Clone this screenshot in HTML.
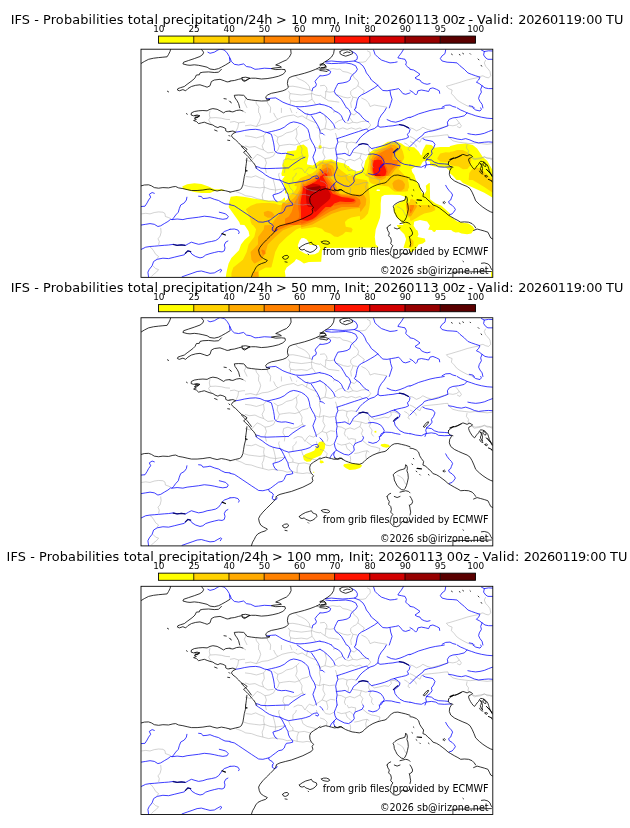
<!DOCTYPE html>
<html lang="fr"><head><meta charset="utf-8"><title>IFS - Probabilities total precipitation/24h</title>
<style>
html,body{margin:0;padding:0;background:#fff}
svg{display:block}
text{font-family:"DejaVu Sans","Liberation Sans",sans-serif;fill:#000}
.t{font-size:12.89px}
.k{font-size:8.9px;text-anchor:middle}
.a{font-size:9.6px;text-anchor:end}
.c{fill:none;stroke:#000;stroke-width:.8;stroke-linejoin:round;stroke-linecap:round}
.b{fill:none;stroke:#222;stroke-width:.4;stroke-linejoin:round}
.d{fill:none;stroke:#a0a0a0;stroke-width:.48;stroke-linejoin:round}
.w{fill:none;stroke:#000;stroke-width:1.2;stroke-linecap:round}
.v{fill:none;stroke:#000;stroke-width:.95;stroke-linecap:round}
.l{fill:none;stroke:#0a0a70;stroke-width:1.2;stroke-linecap:round}
.r{fill:none;stroke:#0000ff;stroke-width:.76;stroke-linejoin:round;stroke-linecap:round}
</style></head>
<body>
<svg width="630" height="828" viewBox="0 0 630 828">
<rect width="630" height="828" fill="#fff"/>
<defs>
<clipPath id="mc"><rect x="141.0" y="49.2" width="351.80" height="228.15"/></clipPath>
<g id="cb">
<rect x="158.55" y="36.05" width="35.51" height="7.15" fill="#ffff00"/>
<rect x="193.76" y="36.05" width="35.51" height="7.15" fill="#ffd200"/>
<rect x="228.96" y="36.05" width="35.51" height="7.15" fill="#ffaa00"/>
<rect x="264.17" y="36.05" width="35.51" height="7.15" fill="#ff8200"/>
<rect x="299.37" y="36.05" width="35.51" height="7.15" fill="#ff6400"/>
<rect x="334.58" y="36.05" width="35.51" height="7.15" fill="#ff1400"/>
<rect x="369.78" y="36.05" width="35.51" height="7.15" fill="#d20000"/>
<rect x="404.99" y="36.05" width="35.51" height="7.15" fill="#960000"/>
<rect x="440.19" y="36.05" width="35.51" height="7.15" fill="#5a0000"/>
<path d="M193.76 36.05V43.2" stroke="#000" stroke-width=".8" fill="none"/>
<path d="M228.96 36.05V43.2" stroke="#000" stroke-width=".8" fill="none"/>
<path d="M264.17 36.05V43.2" stroke="#000" stroke-width=".8" fill="none"/>
<path d="M299.37 36.05V43.2" stroke="#000" stroke-width=".8" fill="none"/>
<path d="M334.58 36.05V43.2" stroke="#000" stroke-width=".8" fill="none"/>
<path d="M369.78 36.05V43.2" stroke="#000" stroke-width=".8" fill="none"/>
<path d="M404.99 36.05V43.2" stroke="#000" stroke-width=".8" fill="none"/>
<path d="M440.19 36.05V43.2" stroke="#000" stroke-width=".8" fill="none"/>
<rect x="158.55" y="36.05" width="316.85" height="7.15" fill="none" stroke="#000" stroke-width="0.88"/>
</g>
<g id="bm">
<path class="d" d="M287.9,86.5 292.9,86.2 298.6,87.2 304.3,88.6 310.0,90.0 312.1,90.8M295.7,76.2 297.9,78.6 301.4,80.0 304.3,81.5 307.1,83.6 309.3,86.5 310.0,90.0M288.3,90.8 290.0,93.6 289.3,97.9 290.7,100.8 290.0,104.3M290.0,93.6 295.7,94.3 301.4,95.0 307.1,94.3 312.1,93.6 315.7,95.0 320.0,95.8M312.1,90.8 311.4,95.0 312.1,99.3 314.3,102.2 315.7,104.8M290.7,100.8 295.7,101.5 301.4,101.0 307.1,101.9 312.1,99.3M245.0,96.5 245.7,99.3 244.3,102.2 245.7,105.0 247.1,107.9M255.7,100.5 256.4,103.6 258.6,106.5 259.3,107.9M267.1,100.8 267.9,103.6 270.0,106.5 270.7,107.9M328.6,69.3 332.9,68.6 337.1,69.3 340.0,69.0 342.9,71.5 347.1,72.2 350.7,73.6 352.9,75.0M352.9,75.0 354.3,77.9 357.1,80.0 358.6,82.9 357.9,85.8 355.7,87.9 352.9,89.3 350.7,91.5 350.7,94.3 352.9,97.2 352.1,100.0 350.7,102.9 351.4,107.9M320.0,85.8 324.3,85.3 326.4,87.2 327.1,90.0 325.7,91.5 330.0,92.2 334.3,91.5M335.7,94.3 340.0,95.8 343.6,97.2 347.9,97.9 350.7,97.2M325.7,91.5 325.7,95.0 325.0,98.6 328.6,100.8 334.3,101.5 339.3,102.2M357.9,85.8 361.4,88.6 364.3,90.8 362.9,93.6M352.9,97.2 357.1,97.9M361.4,97.9 365.7,100.0 368.6,102.9 370.0,106.5 374.3,105.0 378.6,105.8 382.9,106.5 387.1,107.2M367.1,50.8 370.0,52.2 370.3,55.8 367.9,58.6 365.7,61.5 362.9,62.2 358.6,62.2M320.0,95.0 322.9,97.2 325.0,98.6M446.4,86.2 450.0,85.3 455.7,83.6 461.4,81.9 467.1,80.0 472.9,78.6 477.9,77.6 480.0,76.5 482.9,75.8 485.7,77.2 488.6,77.9 490.7,75.8 490.0,71.5 487.9,68.6 485.7,66.5 484.3,62.9 485.7,60.0M446.4,86.2 448.6,88.6 452.1,90.0 451.4,93.6 454.3,96.5 456.4,99.3 459.3,101.5 462.9,103.6 467.1,105.8 471.4,107.2 473.6,107.9M210.0,110.8 209.3,114.3 210.0,117.9 208.6,120.0 210.0,122.2 211.4,124.3M210.0,117.9 215.7,117.6 221.4,118.2 225.7,119.3 230.0,119.6M242.9,111.0 246.0,112.9M296.1,112.9 297.1,112.2M244.3,147.2 245.0,147.1M230.0,122.2 234.3,121.5 238.6,122.9 242.9,122.2 245.0,122.2M238.6,122.9 237.9,127.2 235.7,132.2M270.7,107.9 270.2,112.9M281.4,107.9 281.4,112.9M258.6,107.9 258.6,112.9M290.0,107.9 292.0,112.9M368.6,122.2 370.7,125.0 368.6,127.9 366.4,129.0M369.3,146.5 374.3,150.8 378.6,150.0 384.3,148.6 388.6,149.3 391.4,146.5 390.7,143.6 394.3,143.3 398.6,145.0 400.0,147.9M369.3,146.5 368.6,150.8 370.7,154.3 369.3,157.9 372.1,161.5 371.4,165.0 373.6,167.9M404.3,142.9 407.1,144.3 409.3,146.5 407.9,149.3 410.0,150.8M335.0,127.9 338.6,129.3 342.9,127.9 347.1,129.3 351.4,127.9 355.7,129.3 360.0,127.9 362.9,130.0M345.0,122.2 348.6,123.6 352.9,122.2 357.1,122.9 361.4,121.5 366.4,121.0M335.0,133.3 335.7,133.6 337.1,138.6M335.0,149.0 335.7,149.3M335.0,154.2 336.4,153.6M337.9,142.2 342.9,141.5 347.1,142.9 351.4,142.2 356.4,142.9M347.1,142.9 346.4,147.2 348.6,150.8 347.9,155.0M352.1,152.2 357.1,152.9 361.4,153.6 365.7,155.0 368.6,154.3M361.4,153.6 360.0,157.9 362.9,161.5 361.4,165.0 362.9,167.9M337.1,157.9 341.4,158.6 345.7,160.8 350.0,159.3 354.3,160.8 360.0,157.9M345.7,160.8 344.3,165.0 345.7,167.9M334.3,110.8 333.6,112.9M342.9,119.3 338.6,120.8 335.0,123.3M350.7,113.6 354.3,115.0 357.1,112.2M349.3,117.2 352.9,122.2M410.0,127.9 412.9,128.6 416.4,130.8 420.0,129.3 422.9,127.2 427.1,129.3 431.4,130.5 435.7,129.3 440.7,127.9 445.7,126.5 449.3,125.3 452.9,125.8 456.4,125.0 459.3,122.9 457.1,120.0 455.7,118.6M459.3,122.9 461.4,125.8 460.0,127.9 457.1,126.5M410.0,136.5 412.9,137.9 416.4,140.0 420.0,142.2 421.4,138.6 424.3,137.2 431.4,136.5 438.6,135.8 444.3,135.0 447.9,134.8 448.6,137.2M448.6,137.2 452.9,140.8 458.6,142.2 464.3,142.9 470.0,143.6 475.7,142.9 481.4,143.6 487.1,144.3 492.7,143.6M467.1,144.3 466.4,147.9 468.6,150.8 467.9,153.6 470.0,155.0M471.7,157.9 475.7,158.6 480.0,157.9 484.3,157.2 488.6,157.9 492.7,158.6M410.0,141.5 412.9,142.9 415.7,145.0 416.4,147.2M141.4,213.9 145.7,213.3 150.0,213.9 154.3,212.5 158.6,211.9 162.9,212.2 165.0,213.6 165.4,216.5 168.6,217.6 170.7,218.6M243.6,185.0 248.6,186.5 254.3,187.2 260.0,187.9 264.3,187.2M235.7,191.5 241.4,193.6 245.7,195.8 251.4,196.5 257.1,198.6 262.9,200.0 268.6,201.5 272.9,200.8 277.1,201.5 282.9,202.2 287.1,203.6 292.1,202.9 297.1,204.3 302.9,205.0 307.1,204.3 311.4,205.0M264.3,187.2 263.6,191.5 262.1,195.0 262.9,200.0M264.3,187.2 270.0,189.3 275.7,190.0 280.0,189.3 285.0,188.6M260.0,177.9 264.3,179.3 263.6,183.6 264.3,187.2M272.9,178.6 274.3,183.6 275.7,190.0M287.9,194.3 292.9,193.6 298.6,195.0 304.3,194.3 310.0,195.8M288.6,183.6 290.0,187.9 292.9,190.8 292.9,193.6M301.4,181.5 302.9,186.5 307.1,189.3 312.9,190.8 317.1,191.5M296.4,172.9 295.7,175.0 292.9,177.9 292.9,182.9M306.6,172.9 307.1,173.6 312.1,177.2M279.3,172.9 278.6,175.0 280.0,180.0M298.6,195.0 297.1,199.3 297.1,204.3M245.7,176.5 251.4,177.2 255.7,175.8 260.0,177.9M316.4,172.9 317.1,175.8M275.7,190.0 275.0,194.3M320.0,180.8 324.3,182.2 327.1,185.0 326.4,188.6M322.9,172.9 325.7,176.5 330.0,177.2 334.3,175.0M337.1,175.0 341.4,176.5 345.7,175.8 350.0,174.3 353.6,177.9M345.7,175.8 347.1,180.0 350.0,182.2 352.1,184.3M350.0,187.2 350.7,190.8 350.0,193.6M354.3,185.0 358.6,184.3 362.9,182.9 367.1,182.2 369.3,183.6M367.1,182.2 365.7,186.5 366.4,190.8M367.1,175.8 371.4,177.9 375.7,178.6 380.0,180.0 379.3,182.9 377.1,184.8M347.1,167.9 348.6,170.8 351.4,170.0 355.7,170.8 355.0,175.0M362.9,172.2 367.1,175.8M397.1,206.5 400.0,207.9 402.9,210.0 404.3,212.9 405.7,215.8M160.7,227.9 161.1,232.2 160.0,236.5 157.9,238.6 159.3,241.5 158.6,245.0M150.0,247.2 151.4,247.9 153.6,250.8 155.7,254.3 158.6,256.5 157.1,258.6M152.9,265.8 155.7,268.6 158.6,269.6 156.4,272.2 153.6,274.3 151.4,276.5M472.5,156.5 472.9,158.6 474.3,159.7 476.4,159.3 478.6,159.0 480.7,158.6 482.9,157.5 484.3,156.5 485.7,157.5 487.1,158.6 489.3,158.5 491.4,159.3 492.3,159.5M245.0,125.8 250.7,125.0 256.4,126.5 262.1,124.3 267.9,123.6 273.6,121.5 277.9,119.3 282.1,117.2 287.9,115.8 293.6,115.0M259.3,112.9 260.7,117.2 259.3,121.5 256.4,126.5M273.6,112.9 275.7,117.2 277.9,119.3M293.6,115.0 297.9,117.2 302.1,115.8 306.4,118.6 310.7,120.8 316.4,122.9M245.0,135.8 250.7,136.5 256.4,137.9 263.6,135.8 266.4,132.2M263.6,135.8 264.3,141.5 262.1,145.8 263.6,150.0 267.9,152.9 273.6,152.2M273.6,134.3 277.9,137.2 282.1,135.8 286.4,132.9 292.1,131.5 296.4,128.6 299.3,125.8M277.9,137.2 277.1,141.5 279.3,145.8 283.6,145.0 289.3,144.3 295.0,145.0 299.3,143.6 302.1,141.5 307.9,140.0 309.3,138.6M296.4,128.6 297.1,134.3 295.7,138.6 299.3,143.6M245.0,145.8 249.3,147.2 255.0,146.5 259.3,148.6 263.6,150.0M257.1,154.3 260.7,155.8 265.0,158.6 269.3,157.9 273.6,155.8 275.0,152.9M279.3,145.8 277.9,150.0 275.0,152.9M283.6,160.0 287.9,158.6 292.1,160.0 297.9,158.6 302.1,155.8 303.6,157.2M299.3,143.6 302.1,148.6 301.4,152.9 303.6,157.2M265.0,158.6 266.4,162.9 265.0,167.2 266.4,172.9M283.6,160.0 282.9,164.3 285.0,167.9 284.3,172.9M316.4,127.2 320.7,130.0 325.0,128.6 330.7,130.0 335.0,128.6M315.0,147.2 319.3,148.6 323.6,147.2 329.3,148.6 335.0,147.9M317.9,165.8 322.1,162.9 326.4,164.3 330.7,162.2 335.0,162.9M323.6,147.2 322.9,152.9 325.0,157.2 322.1,162.9M305.0,172.9 307.1,169.3 309.3,167.2 313.6,168.6 317.9,165.8M320.7,130.0 319.3,135.8 320.7,141.5 319.3,148.6M245.0,160.0 250.7,161.5 257.1,154.3M293.6,170.0 297.9,167.9 302.1,168.6 305.0,172.9M326.4,164.3 327.9,170.0 327.1,172.9M306.4,118.6 307.9,112.9M325.0,128.6 326.4,121.5 325.0,115.8"/>
<path class="b" d="M316.4,69.0 320.0,70.0"/>
<path class="r" d="M207.9,52.2 210.0,53.3 214.3,52.2 217.9,50.0 220.0,49.0 224.3,50.0 227.1,52.9 229.3,56.5 230.0,61.5M230.0,57.9 231.4,61.5 234.3,64.3 238.6,65.0 243.6,63.9 246.4,66.5 250.7,67.2 255.0,69.3 258.6,69.0 264.3,68.2 271.4,68.6M266.4,99.0 271.4,98.2 275.7,97.9 279.3,100.0 282.9,102.2 287.1,103.9 291.4,105.3 295.7,106.5 300.0,106.8 304.3,106.5 310.0,105.8 315.7,104.8 320.0,103.9M320.0,75.8 317.1,78.6 315.0,81.5 316.4,84.3 315.7,86.5 312.9,87.9 312.1,90.8M325.7,61.5 331.4,61.0 337.1,61.5 342.9,61.9 348.6,61.5 354.3,61.0 359.3,62.9 362.9,65.8 365.0,69.3 366.4,72.9 369.3,76.5 371.4,80.0 375.0,82.9 377.9,85.3 380.0,87.9 382.9,90.5 387.1,90.8 391.4,90.0 395.7,89.3 398.6,88.6 400.7,90.8 402.9,93.6 405.7,94.3 410.0,92.9M390.0,90.8 390.7,95.0 392.1,99.3 390.7,103.6 389.3,107.9M325.7,62.9 331.4,63.6 338.6,63.3 345.7,62.9 351.4,63.9 355.7,65.8 357.4,69.3 355.7,72.2 352.9,74.3 350.7,77.2 350.0,80.0 347.1,81.9 342.9,82.9 337.9,83.6 336.4,86.5 335.0,89.3 334.3,91.5 335.7,94.3 338.6,96.5 341.4,99.3 343.6,102.9 345.7,106.5 346.4,107.9M352.1,51.5 355.7,53.6 357.4,56.5 357.1,59.3 354.3,61.0M320.0,75.8 322.9,75.8 327.1,75.0 330.0,73.6 330.7,71.5 328.6,70.0M373.6,50.0 375.0,54.3 377.9,57.2 381.4,60.0 385.7,61.5 390.0,62.9 394.3,62.5 397.1,61.9M403.6,49.3 401.4,52.9 398.6,56.5 397.9,57.9 401.4,58.6 405.0,59.3 406.4,62.2 405.7,65.0 407.9,67.2 410.0,68.6M377.9,85.3 374.3,87.9 370.7,90.0 365.7,92.9 361.4,95.0 358.6,97.2 357.1,100.8 356.4,105.0 355.7,107.9M320.0,104.3 324.3,105.0 328.6,106.5 331.4,107.9M445.7,49.6 445.0,53.6 442.1,55.8 440.3,58.6 442.1,61.0 447.1,62.2 452.9,62.5 457.1,62.9 460.0,65.8 464.3,69.3 467.9,72.9 471.4,74.3 475.7,75.8 480.0,77.2 478.6,80.0 476.4,82.2 479.3,83.6 482.1,85.8 485.0,87.9 488.6,88.6 492.7,88.6M482.1,85.8 480.7,89.3 481.4,92.2 479.3,95.8 478.6,98.6 480.0,101.5 482.1,104.3 482.9,107.9M481.4,50.0 484.3,51.5 483.6,55.0 485.7,57.9 487.9,59.3 492.7,59.3M484.3,51.5 488.6,50.8 492.7,51.0M410.0,69.3 413.6,70.0 417.1,72.2 420.0,74.3 417.1,76.5 415.0,77.9 417.1,79.3 420.0,80.0 421.4,82.2 424.3,83.6 427.1,84.3 430.0,83.6M410.0,90.5 412.9,92.2 415.7,95.0 417.1,93.6 417.9,90.8 421.4,90.0 425.7,90.8 428.6,91.5 430.0,88.6 432.9,87.9 436.4,89.3 439.3,90.8 439.7,93.3M442.1,107.2 445.7,105.3 450.0,105.0 452.9,106.5 455.7,107.2M469.3,105.8 472.9,106.5 474.3,107.9M235.7,132.2 240.0,131.5 244.3,130.5 250.0,129.6 255.7,129.3 260.0,130.0 264.3,131.9 267.1,132.5 271.4,131.5 275.7,130.5 280.0,129.3 284.3,127.2 287.1,124.8 290.0,122.9 293.6,121.9 297.1,122.5 301.4,123.9 305.0,126.2 307.9,129.3 309.3,133.6 310.0,137.9 312.1,142.2 314.3,145.8 315.7,150.0 314.3,153.6 312.9,157.2 314.3,161.5 315.7,165.0 316.4,167.9M267.1,132.5 271.4,134.3 272.6,138.6 273.6,142.9 274.3,147.2 274.6,150.8 277.1,152.9 281.4,153.6 285.7,153.3 290.0,154.3 293.6,155.3M297.1,107.9 301.4,110.8 305.0,113.6 310.0,114.8 315.7,113.6 320.0,112.2M311.4,115.8 314.3,120.0 317.1,124.3 319.3,128.6 320.0,131.5M289.3,167.2 292.9,164.3 297.1,161.5 301.4,158.6 305.0,157.2M256.4,166.5 260.0,167.6M386.4,107.9 384.3,111.5 381.4,115.0 379.3,118.6 378.3,122.2 377.9,125.8 380.0,127.2 384.3,126.8 388.6,126.2 392.9,125.8 397.1,125.0 400.0,124.8 404.3,125.8 408.6,127.9 410.0,129.3 409.3,132.2 407.4,134.3 408.6,137.2 405.7,138.6 401.4,139.6 397.1,140.5 394.3,141.5M337.1,138.6 341.4,137.2 345.7,135.8 350.0,134.3 354.3,132.9 358.6,131.5 362.9,130.0 366.4,129.0 368.6,130.8 365.7,132.9 362.9,135.0 360.0,137.9 357.9,140.8 356.4,142.9M377.9,125.8 374.3,128.6 370.0,130.0 368.6,130.8M337.1,138.6 337.9,142.2 336.4,145.8 335.7,149.3 336.4,153.6 337.1,157.9 336.4,162.2 337.1,167.9M337.1,154.3 341.4,153.9 345.0,153.3 347.9,155.0 350.0,155.8 352.1,152.2 353.6,149.3 356.4,147.2 359.3,144.8 362.9,143.6 367.1,144.3 369.3,146.5 371.4,148.6 375.7,147.6 380.0,146.5 384.3,145.3 388.6,143.6 391.4,142.2 394.3,141.5M368.6,154.3 372.9,153.9 377.1,154.8 380.7,156.5 382.9,159.3 384.3,162.2 382.9,165.0 380.7,167.9M320.0,112.2 323.6,114.3 327.1,117.2 330.7,120.8 333.6,124.3 335.0,127.9M331.4,107.9 334.3,110.8 338.6,112.9 341.4,115.8 342.9,119.3 345.0,122.2M347.1,107.9 349.3,110.0 350.7,113.6 349.3,117.2 347.9,120.8M355.7,107.9 354.3,110.0 357.1,112.2 360.0,114.3 362.1,117.2 364.3,119.3 366.4,121.0 368.6,121.9M320.0,132.9 322.9,133.6 324.3,135.0M387.1,119.6 391.4,121.5 395.7,122.2 400.0,121.0 404.3,119.3 407.9,117.6 410.0,117.2M394.3,141.5 397.9,143.6 400.0,145.8 399.3,148.6 396.4,150.8 394.3,152.9 395.0,156.5 397.1,159.3 400.0,162.2 404.3,164.3 408.6,165.0 410.0,165.3M380.0,167.9 381.4,165.0 385.7,163.6 391.4,163.9 395.7,165.0 400.0,165.8M410.0,117.6 414.3,115.8 418.6,113.9 424.3,112.2 430.0,110.5 435.7,109.3 440.7,108.6 444.3,107.9M457.1,107.9 460.7,110.0 464.3,111.5 467.1,112.9 471.4,114.3 475.7,115.8 481.4,117.2 487.1,118.2 492.7,118.6M410.0,146.5 412.9,143.6 416.4,140.0 420.0,137.2 422.9,135.0 424.3,132.9 428.6,131.5 432.9,130.8 438.6,129.3 444.3,127.2 447.9,125.8 447.4,122.2 449.3,119.3 452.9,117.9 458.6,117.2 464.3,115.8 467.1,112.9M467.9,133.6 471.4,134.3 475.7,134.8 480.0,134.3 484.3,133.3 488.6,131.5 492.7,130.0M448.6,137.2 452.9,137.9 457.1,139.0 461.4,139.6 465.7,138.6 470.0,140.0 474.3,141.9 478.6,142.9 484.3,142.2 488.6,141.9 492.7,142.2M422.9,138.6 425.7,140.0 430.0,140.8 432.9,141.5 435.0,144.3 433.6,147.9 431.4,150.8 432.1,153.6 430.0,156.5 427.1,158.6 425.7,161.5 426.4,164.3 425.0,167.9M410.0,165.0 415.7,166.5 421.4,167.2 425.7,165.0 431.4,164.3 435.7,165.0 438.6,166.8 444.3,167.2 451.4,166.8M426.4,159.3 431.4,160.0 434.3,162.2 438.6,163.6 444.3,163.9 448.6,164.3M472.9,107.9 475.7,110.0 480.0,111.0 481.4,109.3 480.7,107.9M141.4,206.5 145.0,206.2 147.1,202.9 148.6,200.0 150.7,197.2 149.3,194.3 152.1,192.5 154.3,193.3M198.6,196.2 201.4,196.5 202.9,198.6 207.1,198.2 210.0,197.6 214.3,199.3 218.6,200.5 221.4,202.2 225.0,203.9 230.0,204.3M186.9,197.2 186.4,200.0 184.3,202.9 180.7,205.0 179.3,208.6 178.3,212.2 175.7,215.0 173.6,217.9 172.1,219.6M141.4,225.0 145.7,224.3 150.0,223.6 154.3,224.3 157.9,226.5 160.7,225.8 164.3,223.6 167.9,221.5 170.7,219.3 172.1,219.6 177.1,219.0 182.9,219.6 187.1,218.6 192.9,217.9 198.6,217.2 204.3,216.2 210.0,216.8 214.3,217.6 218.6,218.6 222.9,219.3 227.1,218.6 228.3,216.5 225.7,213.9 222.1,212.9 219.3,212.2M255.7,167.9 258.6,170.0 262.1,172.2 265.7,175.0 269.3,177.2 272.9,178.6 277.1,179.6 280.0,180.0 282.1,182.9 283.6,185.8 285.0,188.6 286.4,191.5 287.9,194.3 288.6,197.9 290.0,200.8 292.1,202.9 292.9,205.0 290.0,205.8 286.4,206.2 285.0,208.6 284.3,210.8 282.1,212.9 278.6,213.6 275.7,215.8 272.9,217.9 270.7,219.6 268.6,220.8M260.7,168.2 267.1,168.6 275.7,168.3 284.3,168.0 288.6,167.9M280.0,180.0 284.3,182.2 288.6,183.6 292.9,182.9 297.1,182.2 301.4,181.5 305.7,180.5 310.0,179.0 312.1,177.2 314.3,176.2 317.1,175.8 318.6,177.2 317.9,179.0 315.7,178.2M285.0,188.6 282.1,191.5 278.6,193.3 275.0,194.3 272.9,195.0 273.6,197.2 275.0,200.0 277.1,201.5M230.0,204.8 234.3,205.8 238.6,208.6 242.9,211.5 247.1,214.3 251.4,217.2 255.7,220.0 258.6,221.9 262.9,222.2 265.7,221.5 268.6,220.8 269.3,222.9 272.1,224.3 273.6,226.5 272.1,227.9M337.1,167.9 335.7,171.5 334.3,175.0 335.0,178.6 336.4,181.5 334.3,183.6 332.1,185.8 330.7,187.9 330.0,189.3M334.3,183.6 333.6,186.5 335.0,189.3M336.4,181.5 340.0,183.6 344.3,185.8 348.6,186.5 352.1,184.3 354.3,181.5 353.6,177.9 355.0,175.0 358.6,173.6 362.1,172.2 363.6,169.3 362.9,167.9M368.6,173.6 372.9,174.8 377.1,173.6 379.7,170.8 379.3,167.9M320.0,169.3 322.1,171.5 322.9,172.9M445.7,185.3 447.1,187.9 449.3,190.8 451.4,192.9 452.6,195.0 451.4,197.9 450.7,200.0 448.6,201.5 449.3,203.6 452.1,205.3 454.3,207.6 455.4,209.6 453.6,212.2 452.1,213.9 449.3,214.8M141.4,249.3 145.7,247.2 150.0,246.5 154.3,246.2 158.6,245.8 164.3,245.3 168.6,245.0 173.6,244.3 177.1,245.3 181.4,244.8 185.7,245.3 188.6,243.6 191.4,242.2 195.0,243.3 198.6,244.3 202.9,243.6 207.1,242.2 211.4,241.5 215.7,240.5 218.6,238.6 220.7,235.8 222.1,233.6 224.3,231.5 227.1,230.5 230.0,229.3M148.6,277.2 147.9,272.2 149.3,269.3 152.1,265.8 153.6,261.5 157.1,259.3 162.9,258.2 168.6,258.6 174.3,257.2 180.0,255.8 184.3,254.8 185.7,252.9 187.9,250.8 190.0,251.5 192.1,254.3 195.7,256.5 200.0,257.9 202.9,257.2 205.7,255.0 210.0,253.6 214.3,252.5 218.6,251.5 222.1,251.9 224.3,250.8 225.0,247.9 224.3,245.0 225.7,242.2 227.9,241.0M182.1,276.8 187.1,275.0 192.1,273.3 197.1,271.5 201.4,271.0 205.7,272.2 210.0,273.3 214.3,272.9 217.9,270.8 220.7,269.3 221.7,270.0 220.3,272.2M272.9,227.9 272.1,230.0 274.3,231.5 276.4,230.8 277.1,229.3M230.0,229.3 234.3,229.0 237.9,230.0 239.3,232.2 238.6,233.6"/>
<path class="l" d="M399.3,124.5 403.6,125.3 408.6,127.9M358.9,144.6 362.9,143.5 367.9,144.5M393.4,152.5 395.4,150.5 397.9,148.6M173.1,244.5 177.1,245.3 181.4,244.8 185.0,245.3M185.4,253.3 187.9,250.9 190.7,251.6"/>
<path class="c" d="M141.4,63.3 144.3,61.5 148.6,59.3 153.6,58.2 158.6,57.6 162.9,57.2 167.1,56.8 168.6,54.3 170.0,51.5 170.7,49.0M201.4,49.3 203.6,52.2 202.9,54.3 200.0,56.5 194.3,58.6 188.6,60.5 183.6,62.2 182.9,63.9 187.1,65.0 190.0,65.3 194.3,64.8 198.6,65.3 202.9,66.2 207.1,67.2 210.0,69.0 214.3,69.6 218.6,68.6 221.4,67.2 225.7,64.8 230.0,62.2M221.4,69.3 218.6,72.2 214.3,72.5 208.6,71.9 202.9,72.2 200.0,72.9 199.3,74.8 196.4,75.0 195.0,77.9 192.9,80.0 190.0,82.2 187.1,84.3 184.3,86.5 180.7,87.6 177.9,88.6 177.4,90.0 179.3,90.8 182.9,89.6 185.7,90.8 187.9,88.6 191.4,86.5 195.7,85.3 200.0,84.8 204.3,86.2 207.1,87.2 210.0,85.8 211.4,81.5 214.3,80.0 220.0,79.3 224.3,80.8 227.1,81.9 230.0,81.5M167.4,91.2 168.6,91.9M224.0,98.6 226.3,99.0M229.4,101.0 230.3,101.9M290.7,49.0 291.1,53.6 289.3,57.2 286.4,60.0 282.9,61.5 278.6,63.6 275.7,65.0 279.3,65.8 281.4,67.2 272.9,68.2 271.4,68.6 275.7,69.6 281.4,69.3 285.0,69.6 285.4,71.9 282.9,74.3 278.6,76.2 272.9,77.6 267.1,78.6 261.4,79.0 255.7,78.2 251.4,78.2 248.6,78.6 245.7,80.5 242.9,80.0 241.4,78.6 238.6,79.3 234.3,80.5 230.0,81.0M242.1,77.6 245.7,77.2 250.0,78.2 247.1,80.0 244.3,81.5 242.1,80.0 242.1,77.6M320.0,67.2 315.7,69.3 310.0,71.5 304.3,73.3 298.6,74.8 292.9,76.2 289.3,77.6 287.9,80.0 287.4,83.6 288.3,87.2 286.4,89.3 282.9,90.8 277.1,92.2 271.4,93.3 267.9,94.8 265.7,96.8 266.4,99.0 270.0,99.6 267.1,100.8 261.4,101.0 255.7,100.5 251.4,100.0 247.1,99.3 245.0,96.5 243.6,95.3 238.6,95.0 234.3,95.3 235.0,97.9 237.1,100.8 238.6,103.6 239.7,107.9M230.3,101.9 231.4,102.8M334.3,49.3 333.6,53.6 331.4,57.2 327.9,60.0 324.3,62.2 321.4,64.3 320.0,65.8M320.0,64.3 323.6,63.6 325.7,65.8 324.3,67.9 320.0,68.2M320.0,69.3 325.7,69.0 328.6,70.0 327.1,71.5 322.9,70.8 320.0,70.5M320.7,65.0 325.0,64.8 326.4,67.2 321.4,67.6M340.0,51.5 342.9,50.0 348.6,49.6 352.1,51.5 352.6,53.6 349.3,55.0 345.7,56.2 342.1,55.0 340.0,53.6 340.0,51.5M343.6,53.3 347.1,51.9 350.0,52.5M451.4,54.0 452.3,54.6M459.3,54.5 460.1,55.0M462.7,53.3 463.6,53.9M470.0,53.6 470.6,54.2M478.1,59.0 479.0,59.9M481.1,65.3 481.7,66.2M230.0,111.0 225.7,111.5 223.6,112.9 220.0,110.8 217.1,109.3 212.9,108.6 210.0,109.3 207.1,110.8 202.9,110.5 198.6,110.8 194.3,111.5 191.4,112.9 191.1,115.0 193.6,115.8 197.1,115.0 200.0,115.8 197.1,117.2 194.3,118.2 196.4,119.3 193.6,120.5 196.4,121.5 198.6,123.6 201.4,122.9 204.3,122.2 207.1,123.3 210.0,124.3 212.9,125.0 215.0,126.5 217.9,127.6 220.0,126.5 222.9,127.2 225.7,128.6 225.7,130.8 227.9,131.9 230.0,131.5M195.0,115.8 198.6,116.2 197.9,117.6 195.4,117.3M186.4,113.6 187.3,114.2M214.6,130.0 217.1,131.0M227.7,140.2 229.7,140.5M228.9,135.3 229.7,136.2M230.0,111.5 232.9,111.9 236.4,110.5 240.0,110.0 242.9,111.0M230.0,131.5 232.9,131.0 235.7,132.2 232.9,133.6 231.4,135.8 232.9,137.9 235.7,140.0 238.6,142.9 241.4,145.8 244.3,147.2 247.1,149.3 245.7,150.8 243.6,152.2 245.7,154.3 247.9,156.5 250.0,158.6 251.4,160.8 253.6,162.9 255.0,165.0 256.4,167.9M241.4,146.5 244.3,149.3 247.1,152.2 249.3,155.0 251.4,157.9M246.9,158.2 246.3,163.6 245.7,167.9M423.6,157.9 425.0,155.8 427.1,153.6 428.6,153.3 427.9,155.0 425.7,157.6 424.3,159.0 423.6,157.9M448.6,161.9 450.7,160.0 452.9,158.6 457.1,157.2 461.4,155.0M448.6,161.9 448.3,164.3 450.0,166.5 452.9,167.2M141.4,185.8 144.3,185.0 148.6,184.8 151.4,185.8 154.3,187.6 158.6,188.2 162.9,187.6 168.6,187.9 172.9,186.8 175.7,186.5 178.6,187.9 182.9,188.6 187.1,189.6 191.4,190.5 197.1,190.5 202.9,190.0 207.1,189.3 210.0,189.0 212.9,190.0 217.1,191.0 221.4,190.0 225.7,190.8 230.0,191.9M245.7,167.9 245.4,172.2 244.3,176.5 243.6,180.8 242.9,185.0 241.4,188.6 239.3,190.0 235.7,190.8 232.9,191.5 230.0,192.2M245.4,169.9 247.4,170.8 246.0,171.3M320.0,189.3 317.1,191.5 313.6,193.6 310.7,195.8 309.7,198.6 310.0,202.2 311.4,205.0 313.6,207.2 312.1,209.3 312.9,212.2 311.4,214.3 307.1,216.5 302.9,218.6 297.1,220.8 291.4,222.9 285.7,224.3 280.0,225.8 277.1,227.2 276.4,227.9M320.0,190.5 322.9,189.3 325.7,188.6 328.6,189.3 331.4,190.0 334.3,190.8 337.1,190.5 340.0,189.3 342.9,190.8 345.7,192.5 348.6,193.6 352.1,194.8 355.7,195.3 359.3,195.8 362.1,194.8 364.3,192.9 366.4,190.8 369.3,188.6 372.9,186.5 377.1,184.8 381.4,183.6 385.0,182.9 387.1,181.5 389.3,179.0 391.4,176.8 394.3,175.3 397.9,175.0 401.4,175.8 405.7,176.8 410.0,178.2M334.3,189.3 337.9,190.8 341.4,189.6 342.9,190.8M405.7,196.5 406.9,197.2 407.4,200.0 406.9,202.2 407.9,205.0 408.3,209.3 407.4,213.6 406.4,217.2 405.0,220.0 403.6,221.5 401.4,221.0 399.3,219.3 397.1,217.2 395.7,214.3 394.3,211.5 394.0,208.6 393.1,206.2 395.0,204.3 397.1,202.9 400.0,201.5 402.9,200.8 405.0,200.0 405.4,197.9 405.7,196.5M387.1,227.9 388.6,225.8 390.7,224.8M400.0,223.6 402.9,222.9 405.7,222.2 408.6,222.9 410.0,224.3M410.0,179.6 412.9,180.0 416.4,181.5 418.6,183.6 419.7,187.2 421.4,190.0 423.6,192.9 422.9,196.5 425.7,197.6 427.9,200.0 430.7,202.2 432.9,205.0 436.4,206.2 439.3,207.9 442.1,210.0 445.0,212.2 447.9,214.8 450.7,216.5 454.3,218.6 457.9,220.5 460.7,222.2 464.3,221.9 468.6,222.2 472.1,223.6 474.3,225.8 475.7,227.9M451.4,167.9 449.7,170.8 449.3,174.3 450.7,177.9 454.3,180.8 458.6,182.9 462.9,184.8 467.1,186.5 470.0,188.6 472.1,192.2 474.0,196.5 475.7,200.8 479.3,204.3 482.9,207.2 487.1,210.0 490.7,211.9 492.7,212.5M411.9,195.5 412.6,196.0M413.3,189.8 413.9,190.3M416.1,202.6 416.9,203.2M419.7,205.9 420.3,206.5M428.3,205.9 429.1,206.5M443.1,202.5 444.3,201.5 445.4,202.5 444.3,203.6 443.1,202.5M276.4,227.9 275.7,230.0 273.6,232.9 270.0,236.5 266.4,240.0 262.9,243.6 260.0,247.2 258.6,250.0 259.3,253.6 260.7,256.5 263.6,258.6 267.4,260.5 265.7,262.2 261.4,263.6 257.9,265.3 255.7,267.9 254.3,270.8 252.6,273.6 251.4,277.2M299.3,247.9 302.1,245.8 305.7,243.9 309.3,242.9 311.4,242.2 312.6,244.3 314.3,245.0 316.4,245.8 316.9,247.9 315.0,250.0 312.9,251.5 310.0,252.5 307.9,251.5 305.7,250.8 304.3,249.3 302.1,250.0 300.0,249.3 299.3,247.9M308.0,254.0 308.6,254.6M282.6,257.2 284.3,255.8 287.1,255.3 288.6,256.5 287.9,258.2 285.7,259.3 283.6,259.0 282.6,257.2M285.0,261.8 287.1,262.2M321.4,241.9 323.6,241.0 326.4,241.0 328.9,241.9 329.7,243.3 327.9,244.3 325.0,243.9 322.6,243.3 321.4,241.9M387.1,227.9 387.9,230.8 389.3,232.9 388.6,235.8 390.7,237.9 391.4,240.8 390.7,243.6 392.9,245.8 391.4,247.9 390.7,250.8 390.0,253.6 391.4,255.8 393.6,257.6 396.4,258.2 399.3,257.2 400.7,255.0 402.1,252.9 405.0,253.6 407.1,254.3 409.3,252.9 410.0,251.5M394.3,227.9 397.1,229.0 400.0,227.9M409.3,236.5 410.0,239.3M410.0,227.9 411.4,230.0 412.6,232.9 412.1,235.0 410.0,236.5M410.0,240.0 410.7,243.6 410.0,246.5M473.6,230.5 477.1,229.0 480.7,230.0 484.3,231.0 487.9,232.2 489.3,235.0 490.7,237.9 492.7,239.0M481.4,263.3 484.3,262.9 487.9,263.9 490.0,265.8 490.7,267.9 492.1,270.0M462.9,261.2 463.6,261.8M452.9,273.3 452.9,277.2M452.1,272.3 460.0,272.0 474.3,271.8 491.4,271.5M455.0,158.3 457.9,157.2 460.7,155.8 462.9,154.3 465.0,155.0 467.1,155.8 469.3,154.7 471.4,155.4 472.5,156.5 470.4,157.9 468.9,158.6 468.6,160.0 469.3,162.2 470.4,164.3 471.8,166.5 473.2,168.3 474.6,169.3 476.1,167.2 477.1,165.8 478.6,164.3 479.6,162.2 480.7,161.3 482.5,161.5 484.3,162.2 486.4,164.0 487.9,166.1 488.6,168.3 489.3,170.8 490.7,173.6 491.8,175.0 492.3,176.8M480.4,163.6 481.4,165.4 481.1,167.2 480.4,168.3 480.7,170.0 481.8,171.8 482.5,172.9 482.1,170.8 482.5,168.6 482.1,166.5 481.8,164.3 480.4,163.6M479.6,171.1 480.4,172.5 481.4,173.6 482.9,174.0M483.6,162.5 485.0,163.6 486.1,165.0 485.7,166.5 484.3,166.1 483.2,165.0 482.9,163.6 483.6,162.5M486.4,169.3 487.9,170.8 489.3,172.2 490.7,173.6M485.0,175.8 486.4,175.4 487.5,176.1 486.8,177.2 485.4,176.8 485.0,175.8M491.6,180.9 492.1,182.0"/>
<path class="w" d="M450.0,159.5 453.6,158.0M417.1,199.9 421.4,200.3M222.1,233.6 225.4,235.0"/>
<path class="v" d="M486.8,169.7 488.6,171.6 490.4,173.6 491.8,175.8M488.4,179.4 490.0,180.0 491.6,180.9"/>
</g>
</defs>
<g transform="translate(0 0.00)">
<text class="t" y="23.9" x="10.67 14.57 21.84 30.11 34.31 38.95 43.04 50.73 55.87 63.89 72.21 80.24 88.55 92.28 96 99.72 104.91 108.63 116.69 123.54 127.78 133.02 141.11 146.36 154.45 158.23 162.52 170.72 175.76 183.71 190.82 194.43 202.63 206.24 211.31 219.24 224.31 227.92 235.83 244.03 248.16 256.15 264.15 272.11 276 286.78 290.88 299.06 307.27 311.36 323.69 336.04 340.33 344.62 348.49 356.71 360.36 365.47 369.88 374.04 382.12 390.19 398.27 406.36 414.44 422.51 430.59 438.68 442.67 450.5 458.34 464.76 468.5 473.04 477.03 485.09 493.24 497.07 500.91 509.34 513.94 518.29 526.2 534.11 542.04 549.95 557.87 565.78 573.71 581.62 586.15 594.15 602.14 606.03 613.89">IFS - Probabilities total precipitation/24h &gt; 10 mm, Init: 20260113 00z - Valid: 20260119:00 TU</text>
<use href="#cb"/>
<text class="k" x="158.85" y="31.6">10</text><text class="k" x="194.06" y="31.6">25</text><text class="k" x="229.26" y="31.6">40</text><text class="k" x="264.47" y="31.6">50</text><text class="k" x="299.67" y="31.6">60</text><text class="k" x="334.88" y="31.6">70</text><text class="k" x="370.08" y="31.6">80</text><text class="k" x="405.29" y="31.6">90</text><text class="k" x="440.49" y="31.6">95</text><text class="k" x="475.70" y="31.6">100</text>
<g clip-path="url(#mc)">
<path fill="#ffff00" d="M225.8,276.5 226.3,277.4 284.0,277.4 285.6,276.4 284.8,271.2 286.6,267.5 294.3,261.7 296.2,259.0 300.0,260.7 303.9,263.5 308.8,261.9 321.2,261.8 322.0,250.6 324.7,248.0 378.0,247.6 378.2,246.7 375.7,244.6 374.8,237.1 375.7,229.5 380.0,217.8 380.7,212.2 380.7,203.6 381.4,196.7 384.4,195.0 391.5,194.7 400.0,195.0 404.2,196.4 405.5,198.2 405.3,198.9 402.9,200.7 395.1,205.0 393.6,208.7 394.3,212.9 396.4,217.1 403.4,224.2 403.0,225.0 397.3,225.0 396.8,225.6 400.5,230.5 404.3,234.3 406.1,238.9 403.5,247.7 403.9,248.1 409.7,248.3 410.0,252.0 410.4,252.4 412.9,251.4 416.4,247.9 418.6,244.4 422.9,243.5 425.6,241.3 424.8,238.6 417.5,237.0 418.5,234.3 417.6,230.4 416.1,229.8 413.6,225.7 414.2,221.8 414.6,221.4 420.0,220.0 427.1,221.4 429.9,225.7 428.3,229.2 428.3,229.7 432.0,230.0 432.9,231.4 434.5,232.0 435.1,231.8 436.2,230.0 451.2,230.0 452.9,231.4 455.6,232.5 458.6,232.2 461.5,233.6 467.1,234.3 471.3,233.6 473.8,230.2 474.8,229.5 472.8,226.4 468.5,223.6 462.8,222.8 457.1,221.4 450.2,216.2 449.9,213.4 441.5,205.8 435.7,203.6 430.1,199.2 429.8,183.1 429.1,183.1 425.8,185.7 426.4,190.7 424.6,193.8 423.9,193.9 421.5,192.2 420.0,187.8 415.7,179.3 414.3,175.0 412.2,172.1 411.5,169.3 414.3,167.2 420.0,166.4 423.0,161.4 427.1,160.7 429.6,161.5 430.0,162.0 430.0,165.1 430.3,165.6 437.2,166.9 445.8,167.5 449.9,170.9 450.1,173.6 452.9,175.7 456.6,179.9 460.0,180.1 462.9,182.9 484.3,192.8 492.8,197.8 492.8,170.4 487.2,160.8 482.8,157.1 477.1,148.6 472.8,145.0 465.7,143.6 457.1,144.3 450.3,146.0 449.4,146.9 440.0,146.9 434.5,147.8 431.4,145.0 425.9,144.6 422.9,150.0 421.7,155.0 421.1,155.4 418.6,151.4 414.2,147.2 405.7,146.4 401.4,143.6 395.7,141.2 387.9,141.7 381.4,145.7 374.3,149.3 369.4,152.8 366.1,159.7 365.5,160.3 363.5,168.5 360.0,170.7 355.8,171.4 350.0,167.9 348.8,166.1 347.8,165.9 344.3,163.6 337.2,162.1 331.4,159.3 319.3,160.7 312.9,165.6 307.3,164.4 306.9,163.7 308.6,155.7 307.4,147.8 303.6,144.4 297.4,145.7 296.2,150.3 287.1,151.6 285.0,158.6 282.2,165.5 282.8,167.9 281.4,173.5 281.7,175.5 282.2,176.0 284.2,176.0 284.6,176.6 282.2,179.5 285.0,187.8 285.0,193.1 285.5,193.5 287.4,193.5 288.3,195.4 287.6,199.4 286.0,200.7 285.3,200.6 285.0,200.2 285.0,198.0 284.3,197.6 282.1,200.0 277.7,201.4 257.8,199.3 243.5,196.7 236.4,196.1 230.7,196.7 229.3,202.1 228.7,207.2 239.2,222.1 240.2,224.8 244.2,225.0 244.8,225.5 248.6,231.2 249.5,235.8 244.7,239.8 241.0,244.5 239.0,250.3 231.4,257.9 228.6,263.6 226.7,271.2ZM377.0,191.0 376.4,190.5 376.9,189.6 379.5,189.6 380.0,190.0 379.6,191.0ZM300.6,239.6 301.3,238.3 303.9,237.9 306.7,239.4 308.5,242.1 309.5,244.9 318.7,245.1 320.4,248.6 318.6,252.3 314.8,254.3 309.0,254.7 305.3,253.8 299.2,250.3 297.8,245.5 299.9,240.0ZM491.0,277.3 492.8,277.4 492.8,270.9 491.0,271.7ZM319.0,145.4 318.6,145.8 318.6,147.7 320.5,148.7 321.9,147.4 321.3,145.6 320.8,145.2ZM182.6,186.2 182.3,186.9 183.1,188.7 194.3,192.1 201.4,193.1 210.0,192.9 214.7,191.1 215.5,190.5 223.5,191.0 224.3,190.4 223.9,189.8 220.7,189.3 214.3,189.3 208.5,186.4 201.5,184.0 194.4,183.2 187.2,184.3Z"/>
<path fill="#ffd200" d="M468.7,179.4 469.2,180.0 472.6,180.1 484.3,187.1 492.8,192.8 492.8,179.0 490.0,177.1 485.7,172.9 481.4,169.3 477.1,167.5 472.1,169.3 469.3,172.9ZM437.3,158.2 437.4,158.9 440.0,161.4 449.6,162.6 450.3,164.8 452.9,165.7 458.5,166.4 463.0,169.3 467.3,169.1 470.0,165.7 471.4,160.1 470.0,155.7 467.2,152.2 462.8,150.0 457.2,150.0 452.9,151.4 450.4,151.7 449.5,152.6 445.7,152.2 440.2,153.5ZM408.5,202.5 408.0,203.1 408.0,216.7 408.3,217.2 409.9,217.8 410.0,220.1 410.5,220.5 411.5,220.7 415.7,218.6 420.0,215.7 424.3,213.6 431.4,212.1 435.5,209.9 434.2,206.5 430.2,204.9 416.5,204.9 415.6,200.8 411.6,198.7 410.1,199.4 409.9,202.1ZM410.3,239.0 410.0,239.5 410.0,247.0 410.7,247.7 413.5,245.7 413.6,241.6 411.6,238.8ZM365.2,175.1 365.5,175.9 368.3,176.3 369.3,181.4 371.4,183.6 377.2,185.0 388.5,186.4 391.5,189.3 394.4,191.4 400.0,192.1 407.6,191.2 408.0,190.7 408.0,189.2 409.2,187.2 408.6,182.2 408.0,180.9 407.9,176.3 405.1,175.9 398.7,169.3 400.7,165.7 402.9,160.3 403.5,159.8 404.3,157.2 402.9,151.4 400.0,145.7 395.1,142.9 388.5,143.6 382.8,147.2 375.7,150.7 370.8,155.0 368.4,159.2 369.3,160.6 367.9,167.8 366.4,173.5ZM231.4,276.4 232.0,276.9 252.2,276.9 252.8,277.4 257.8,277.4 259.2,271.1 265.7,267.4 271.0,267.4 271.5,267.1 275.2,252.1 279.1,244.5 286.7,236.9 296.1,229.4 300.2,227.7 300.8,227.8 301.1,228.8 301.6,229.0 315.4,226.9 321.9,228.8 324.8,231.7 330.4,233.6 334.3,236.4 337.9,236.9 342.8,234.5 345.7,231.7 351.4,232.4 352.7,229.5 351.3,227.8 345.8,226.8 344.9,222.0 347.7,219.3 351.4,217.4 359.3,215.9 360.0,216.4 360.0,219.8 360.8,220.1 364.3,217.8 367.9,213.5 369.3,207.8 370.0,202.1 369.7,196.4 368.3,184.3 367.1,180.2 355.9,178.6 355.0,176.2 353.9,175.8 353.5,175.0 352.7,174.5 352.1,174.7 351.6,175.9 348.7,175.9 338.0,167.9 337.3,166.2 336.6,165.6 336.3,163.5 331.5,160.8 320.1,162.1 317.0,165.2 317.3,165.9 318.8,166.0 319.1,166.6 317.1,169.3 312.8,172.9 300.7,177.9 295.1,183.5 294.4,185.6 294.8,186.0 296.8,186.3 296.4,188.8 293.6,192.6 288.2,197.1 287.8,199.3 285.1,200.9 284.9,203.2 283.6,204.2 279.3,205.0 275.0,203.6 269.3,202.9 262.2,202.9 256.4,203.6 250.7,205.8 246.1,209.0 245.9,209.6 250.0,217.8 250.7,222.1 252.0,224.7 253.1,225.2 256.1,229.2 254.3,236.8 248.6,244.5 246.7,252.1 242.9,259.7 233.3,267.4 231.4,273.1Z"/>
<path fill="#ffaa00" d="M406.2,203.5 405.8,204.1 407.1,213.3 407.9,214.0 408.2,215.4 410.7,216.4 411.4,215.7 417.0,206.6 416.8,205.4 416.3,205.0 410.4,205.0 408.5,205.7 408.0,205.3 407.8,203.3ZM392.3,183.4 393.6,188.5 397.1,190.9 401.4,190.7 404.3,188.4 405.0,184.3 402.7,180.7 398.4,179.3 394.3,180.7ZM370.0,167.9 370.7,173.5 371.8,175.7 373.8,176.1 374.4,177.2 377.2,179.3 381.5,180.0 385.5,177.9 386.3,176.0 390.4,175.9 394.2,170.8 399.9,164.3 401.5,160.7 401.0,160.0 395.8,159.9 394.3,157.2 395.7,151.5 397.6,148.2 397.6,147.6 394.9,145.0 390.1,145.0 384.2,148.6 378.5,151.5 372.8,155.8 370.8,159.9ZM250.6,252.0 251.4,259.7 254.0,263.2 254.7,263.4 261.9,259.7 265.7,252.1 267.7,244.5 275.2,236.9 282.9,230.2 296.2,225.0 300.6,225.1 301.0,225.5 301.0,226.9 301.6,227.3 312.3,224.5 331.4,214.1 341.0,210.7 351.4,208.8 359.5,208.1 360.0,208.5 360.1,211.4 360.8,211.7 365.7,205.0 366.3,199.1 364.0,195.0 357.2,194.3 348.5,194.3 339.4,193.5 334.3,181.5 330.7,177.9 330.2,176.7 330.6,176.0 334.4,176.0 334.9,175.5 334.3,169.3 332.8,165.8 327.2,163.6 322.3,165.0 321.9,165.6 322.4,166.9 315.7,175.0 311.5,177.8 304.8,181.4 304.2,181.3 303.5,180.2 302.1,180.8 300.7,183.6 299.7,189.8 297.4,193.6 294.0,197.9 286.9,203.6 285.4,203.9 284.9,202.8 284.4,202.5 282.2,203.6 281.0,210.7 278.6,215.0 275.0,219.3 271.4,224.9 264.4,225.3 263.7,229.4 258.1,236.9 258.0,244.6ZM264.0,212.0 263.7,212.6 264.3,215.7 267.8,217.8 272.1,217.8 274.7,215.8 274.6,215.2 272.0,212.1 267.9,210.7ZM252.4,276.4 252.9,276.9 258.7,276.8 258.9,276.2 258.0,271.5 252.6,272.2Z"/>
<path fill="#ff8200" d="M410.0,212.8 410.4,213.3 411.0,213.2 412.9,210.0 414.2,205.9 413.7,205.1 410.6,205.0 410.1,205.3ZM372.4,160.0 371.9,160.5 371.4,169.2 372.6,175.0 373.3,175.9 375.7,176.0 376.6,177.2 380.0,178.1 383.3,176.8 384.0,176.0 388.1,175.8 391.4,170.7 397.1,164.3 398.9,160.6 398.4,160.0 393.1,160.0 392.6,159.7 392.2,158.4 393.5,148.8 390.8,147.2 380.0,152.9 374.3,157.8 373.4,159.8ZM272.3,229.8 272.2,230.7 274.4,232.1 289.5,225.0 301.2,225.1 304.8,224.5 310.5,222.6 316.2,219.8 330.5,211.2 341.6,207.0 358.5,207.0 360.7,203.6 360.0,199.4 355.7,196.4 341.5,195.0 337.1,192.8 334.3,188.6 334.0,187.0 332.2,183.6 328.6,179.3 327.3,176.8 327.7,176.0 332.0,176.0 332.6,175.4 330.7,168.7 327.0,167.2 322.8,169.4 320.0,172.1 317.0,176.5 312.8,179.3 307.1,182.1 304.9,184.0 303.5,183.4 302.5,183.9 301.6,186.2 301.3,189.9 297.2,198.3 294.5,202.2 291.7,211.7 288.8,216.4 285.0,218.8 284.9,224.7 280.2,225.1 277.1,227.4ZM262.0,249.5 261.3,250.2 262.7,254.6 263.3,254.8 265.3,254.1 265.6,253.6 264.7,250.4Z"/>
<path fill="#ff6400" d="M410.0,211.1 410.7,211.6 411.4,210.8 410.8,209.1 410.1,209.5ZM372.1,169.3 373.1,174.2 374.5,175.9 385.9,176.0 386.4,175.7 387.8,172.1 387.1,167.9 385.0,164.3 383.8,160.8 384.4,159.7 384.3,158.6 381.7,155.3 381.0,155.3 376.5,158.5 375.4,159.9 372.8,160.3ZM285.0,224.5 285.6,225.0 296.0,225.0 300.4,222.5 301.4,223.7 302.9,223.6 314.3,219.3 326.6,210.3 331.6,207.3 332.0,206.2 333.2,205.2 334.4,205.7 341.4,204.3 348.5,204.3 354.1,203.6 356.2,201.7 356.3,201.1 354.8,198.5 348.5,197.1 341.4,196.4 335.7,193.5 334.2,191.3 333.4,190.9 332.7,189.8 331.4,186.2 326.5,179.3 325.2,176.7 325.6,176.0 329.8,175.8 330.0,175.3 329.3,172.9 327.2,170.1 324.4,170.7 321.4,173.6 318.5,177.9 314.3,180.7 308.6,183.6 305.0,185.9 303.5,185.4 302.4,186.2 302.1,189.8 299.3,199.3 298.3,204.0 298.3,208.8 299.3,213.6 299.2,217.4 296.4,220.2 290.8,222.1 285.4,223.3Z"/>
<path fill="#ff1400" d="M372.9,169.3 373.6,173.6 375.3,175.9 384.2,176.0 385.5,174.9 386.4,171.3 385.0,167.1 381.3,160.0 379.6,160.0 378.0,159.4 377.0,160.0 374.1,160.2 373.1,163.6ZM300.4,204.0 301.0,210.2 301.0,219.4 302.9,220.2 307.6,220.7 312.4,219.3 316.2,216.5 325.6,207.0 330.5,206.9 332.6,205.5 334.2,203.6 339.9,201.5 345.8,202.1 351.4,202.1 354.4,201.2 354.8,200.6 354.0,199.2 348.5,197.9 341.5,197.1 334.2,194.2 333.0,194.1 327.6,186.9 327.9,185.4 323.0,176.8 323.4,176.0 326.9,176.0 327.4,175.7 327.1,174.3 325.0,173.0 321.4,175.9 320.2,176.2 319.9,177.7 319.3,178.5 315.7,181.4 307.5,185.9 303.2,186.2 302.9,189.8 301.0,199.3Z"/>
<path fill="#d20000" d="M375.0,174.8 374.6,175.4 375.2,176.0 380.2,176.0 380.7,175.4 380.3,174.8 377.2,174.3ZM306.6,186.0 306.1,186.5 306.0,190.7 306.1,199.3 306.7,204.9 308.6,206.9 312.4,207.1 313.4,210.7 315.4,211.9 321.1,206.6 327.9,201.1 330.2,198.3 330.7,194.4 328.8,190.7 326.0,187.9 325.0,186.0 320.5,186.0 319.7,185.1 317.2,184.3 312.9,183.6Z"/>
<path fill="#960000" d="M308.0,187.8 307.5,188.3 307.9,189.7 309.9,191.2 313.6,190.7 318.3,189.3 321.0,187.2 319.9,186.0Z"/>
<use href="#bm"/>
</g>
<text class="a" x="488.6" y="254.5">from grib files provided by ECMWF</text>
<text class="a" x="488.6" y="273.7">©2026 sb@irizone.net</text>
<rect x="141.0" y="49.2" width="351.80" height="228.15" fill="none" stroke="#000" stroke-width="0.88"/>
</g>
<g transform="translate(0 268.55)">
<text class="t" y="23.9" x="10.67 14.57 21.84 30.11 34.31 38.95 43.04 50.73 55.87 63.89 72.21 80.24 88.55 92.28 96 99.72 104.91 108.63 116.69 123.54 127.78 133.02 141.11 146.36 154.45 158.23 162.52 170.72 175.76 183.71 190.82 194.43 202.63 206.24 211.31 219.24 224.31 227.92 235.83 244.03 248.16 256.15 264.15 272.11 276 286.78 290.88 299.06 307.27 311.36 323.69 336.04 340.33 344.62 348.49 356.71 360.36 365.47 369.88 374.04 382.12 390.19 398.27 406.36 414.44 422.51 430.59 438.68 442.67 450.5 458.34 464.76 468.5 473.04 477.03 485.09 493.24 497.07 500.91 509.34 513.94 518.29 526.2 534.11 542.04 549.95 557.87 565.78 573.71 581.62 586.15 594.15 602.14 606.03 613.89">IFS - Probabilities total precipitation/24h &gt; 50 mm, Init: 20260113 00z - Valid: 20260119:00 TU</text>
<use href="#cb"/>
<text class="k" x="158.85" y="31.6">10</text><text class="k" x="194.06" y="31.6">25</text><text class="k" x="229.26" y="31.6">40</text><text class="k" x="264.47" y="31.6">50</text><text class="k" x="299.67" y="31.6">60</text><text class="k" x="334.88" y="31.6">70</text><text class="k" x="370.08" y="31.6">80</text><text class="k" x="405.29" y="31.6">90</text><text class="k" x="440.49" y="31.6">95</text><text class="k" x="475.70" y="31.6">100</text>
<g clip-path="url(#mc)">
<path fill="#ffff00" d="M380.6,177.1 382.9,178.5 386.6,179.3 390.0,178.0 388.9,176.2 384.8,175.3 381.0,175.8ZM374.4,162.5 374.7,164.2 376.5,164.0 376.2,162.3ZM343.3,197.5 345.7,199.4 349.6,201.4 355.2,201.0 360.0,199.5 362.2,197.2 360.0,195.3 348.6,194.9 343.9,195.6ZM302.9,187.6 303.9,191.5 306.7,193.3 310.5,193.0 312.4,190.5 321.0,186.7 324.8,180.0 325.3,175.2 322.9,172.8 319.1,173.4 314.3,181.9 310.5,183.8 305.7,185.4ZM319.6,193.7 321.0,194.9 324.1,194.0 322.8,192.2 320.1,191.8ZM313.1,204.1 314.2,204.2 314.3,203.1 313.2,203.1Z"/>
<use href="#bm"/>
</g>
<text class="a" x="488.6" y="254.5">from grib files provided by ECMWF</text>
<text class="a" x="488.6" y="273.7">©2026 sb@irizone.net</text>
<rect x="141.0" y="49.2" width="351.80" height="228.15" fill="none" stroke="#000" stroke-width="0.88"/>
</g>
<g transform="translate(0 537.10)">
<text class="t" y="23.9" x="6.57 10.47 17.74 26.01 30.2 34.85 38.94 46.63 51.77 59.79 68.1 76.14 84.45 88.17 91.89 95.62 100.81 104.53 112.59 119.44 123.67 128.92 137.01 142.26 150.35 154.13 158.42 166.62 171.65 179.61 186.72 190.32 198.53 202.14 207.21 215.13 220.21 223.82 231.73 239.93 244.06 252.05 260.05 268 271.9 282.68 286.77 294.96 303.16 311.35 315.45 327.79 340.12 344.42 348.71 352.57 360.8 364.44 369.56 373.97 378.13 386.2 394.28 402.37 410.45 418.52 426.6 434.69 442.77 446.75 454.96 463.18 469.97 474.09 478.63 482.62 490.69 498.84 502.67 506.49 514.94 519.52 523.87 531.6 539.34 547.06 554.79 562.51 570.25 577.98 585.7 590.25 598.24 606.22 610.12 617.99">IFS - Probabilities total precipitation/24h &gt; 100 mm, Init: 20260113 00z - Valid: 20260119:00 TU</text>
<use href="#cb"/>
<text class="k" x="158.85" y="31.6">10</text><text class="k" x="194.06" y="31.6">25</text><text class="k" x="229.26" y="31.6">40</text><text class="k" x="264.47" y="31.6">50</text><text class="k" x="299.67" y="31.6">60</text><text class="k" x="334.88" y="31.6">70</text><text class="k" x="370.08" y="31.6">80</text><text class="k" x="405.29" y="31.6">90</text><text class="k" x="440.49" y="31.6">95</text><text class="k" x="475.70" y="31.6">100</text>
<g clip-path="url(#mc)">
<use href="#bm"/>
</g>
<text class="a" x="488.6" y="254.5">from grib files provided by ECMWF</text>
<text class="a" x="488.6" y="273.7">©2026 sb@irizone.net</text>
<rect x="141.0" y="49.2" width="351.80" height="228.15" fill="none" stroke="#000" stroke-width="0.88"/>
</g>
</svg>
</body></html>
